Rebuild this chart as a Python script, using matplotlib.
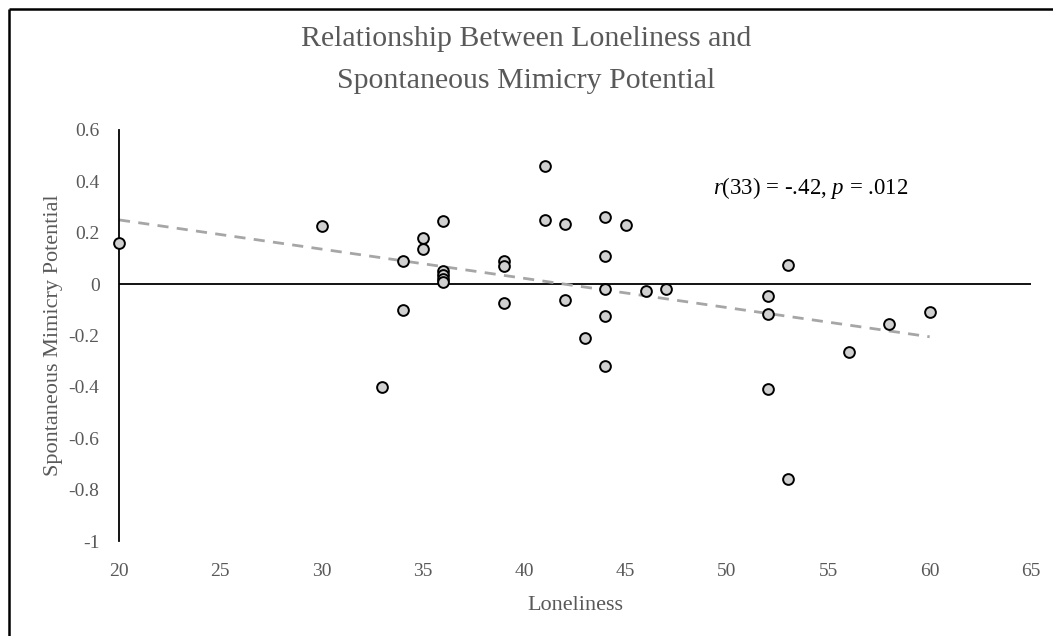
import numpy as np
import matplotlib
matplotlib.use("Agg")
import matplotlib.pyplot as plt
from matplotlib.lines import Line2D

plt.rcParams['font.family'] = ['Liberation Serif', 'DejaVu Serif']
plt.rcParams['mathtext.fontset'] = 'custom'
plt.rcParams['mathtext.rm'] = 'Liberation Serif'
plt.rcParams['mathtext.it'] = 'Liberation Serif:italic'

# Data
loneliness = [20, 30, 33, 34, 34, 35, 35, 36, 36, 36, 36, 36,
              39, 39, 39, 41, 41, 42, 42, 43, 44, 44, 44, 44, 44,
              45, 46, 47, 52, 52, 52, 53, 53, 56, 58, 60]
mimicry = [0.16, 0.225, -0.40, 0.09, -0.10, 0.18, 0.135, 0.245, 0.05, 0.035, 0.02, 0.01,
           0.09, 0.07, -0.075, 0.46, 0.25, 0.235, -0.06, -0.21, 0.26, 0.11, -0.02, -0.125, -0.32,
           0.23, -0.025, -0.02, -0.045, -0.115, -0.41, 0.075, -0.76, -0.265, -0.155, -0.11]
trend_x = [20, 60]
trend_y = [0.25, -0.205]

x_ticks = [20, 25, 30, 35, 40, 45, 50, 55, 60, 65]
y_ticks = [0.6, 0.4, 0.2, 0, -0.2, -0.4, -0.6, -0.8, -1]
y_tick_labels = ['0.6', '0.4', '0.2', '0', '-0.2', '-0.4', '-0.6', '-0.8', '-1']

title = "Relationship Between Loneliness and\nSpontaneous Mimicry Potential"
xlabel = "Loneliness"
ylabel = "Spontaneous Mimicry Potential"
annotation = r"$\mathit{r}$(33) = -.42, $\mathit{p}$ = .012"

gray_text = '#595959'

fig = plt.figure(figsize=(10.53, 6.36), dpi=100)
ax = fig.add_axes([119/1053, 1-541/636, (1031-119)/1053, (541-130)/636])

ax.set_xlim(20, 65)
ax.set_ylim(-1, 0.6)

ax.plot(trend_x, trend_y, linestyle=(0, (4, 3)), color='#a6a6a6', linewidth=2.0, zorder=2)
ax.axhline(0, color='black', linewidth=1.3, zorder=1)
ax.scatter(loneliness, mimicry, s=60, facecolor='#d0d0d0', edgecolor='black',
           linewidth=1.4, zorder=3, clip_on=False)

for s in ['top', 'right', 'bottom']:
    ax.spines[s].set_visible(False)
ax.spines['left'].set_linewidth(1.3)
ax.spines['left'].set_color('black')

ax.set_xticks(x_ticks)
ax.set_xticklabels([str(t) for t in x_ticks])
ax.set_yticks(y_ticks)
ax.set_yticklabels(y_tick_labels)
ax.tick_params(axis='both', length=0, labelsize=14, labelcolor=gray_text)
ax.tick_params(axis='x', pad=16)
ax.tick_params(axis='y', pad=14)

ax.set_xlabel(xlabel, fontsize=16, color=gray_text, labelpad=11)
ax.set_ylabel(ylabel, fontsize=16, color=gray_text, labelpad=4)

fig.text(0.5, 1-60/636, title, ha='center', va='center', fontsize=21.5,
         color=gray_text, linespacing=1.8)

ax.text(49.3, 0.375, annotation, fontsize=16.5, color='black', ha='left', va='center')

# figure frame (left and top edges)
fig.add_artist(Line2D([8.5/1053, 8.5/1053], [0, 1-8.5/636], transform=fig.transFigure,
                      color='black', linewidth=1.8, solid_capstyle='butt'))
fig.add_artist(Line2D([8.5/1053, 1], [1-8.5/636, 1-8.5/636], transform=fig.transFigure,
                      color='black', linewidth=1.8, solid_capstyle='butt'))

fig.savefig('out.png', dpi=100)
